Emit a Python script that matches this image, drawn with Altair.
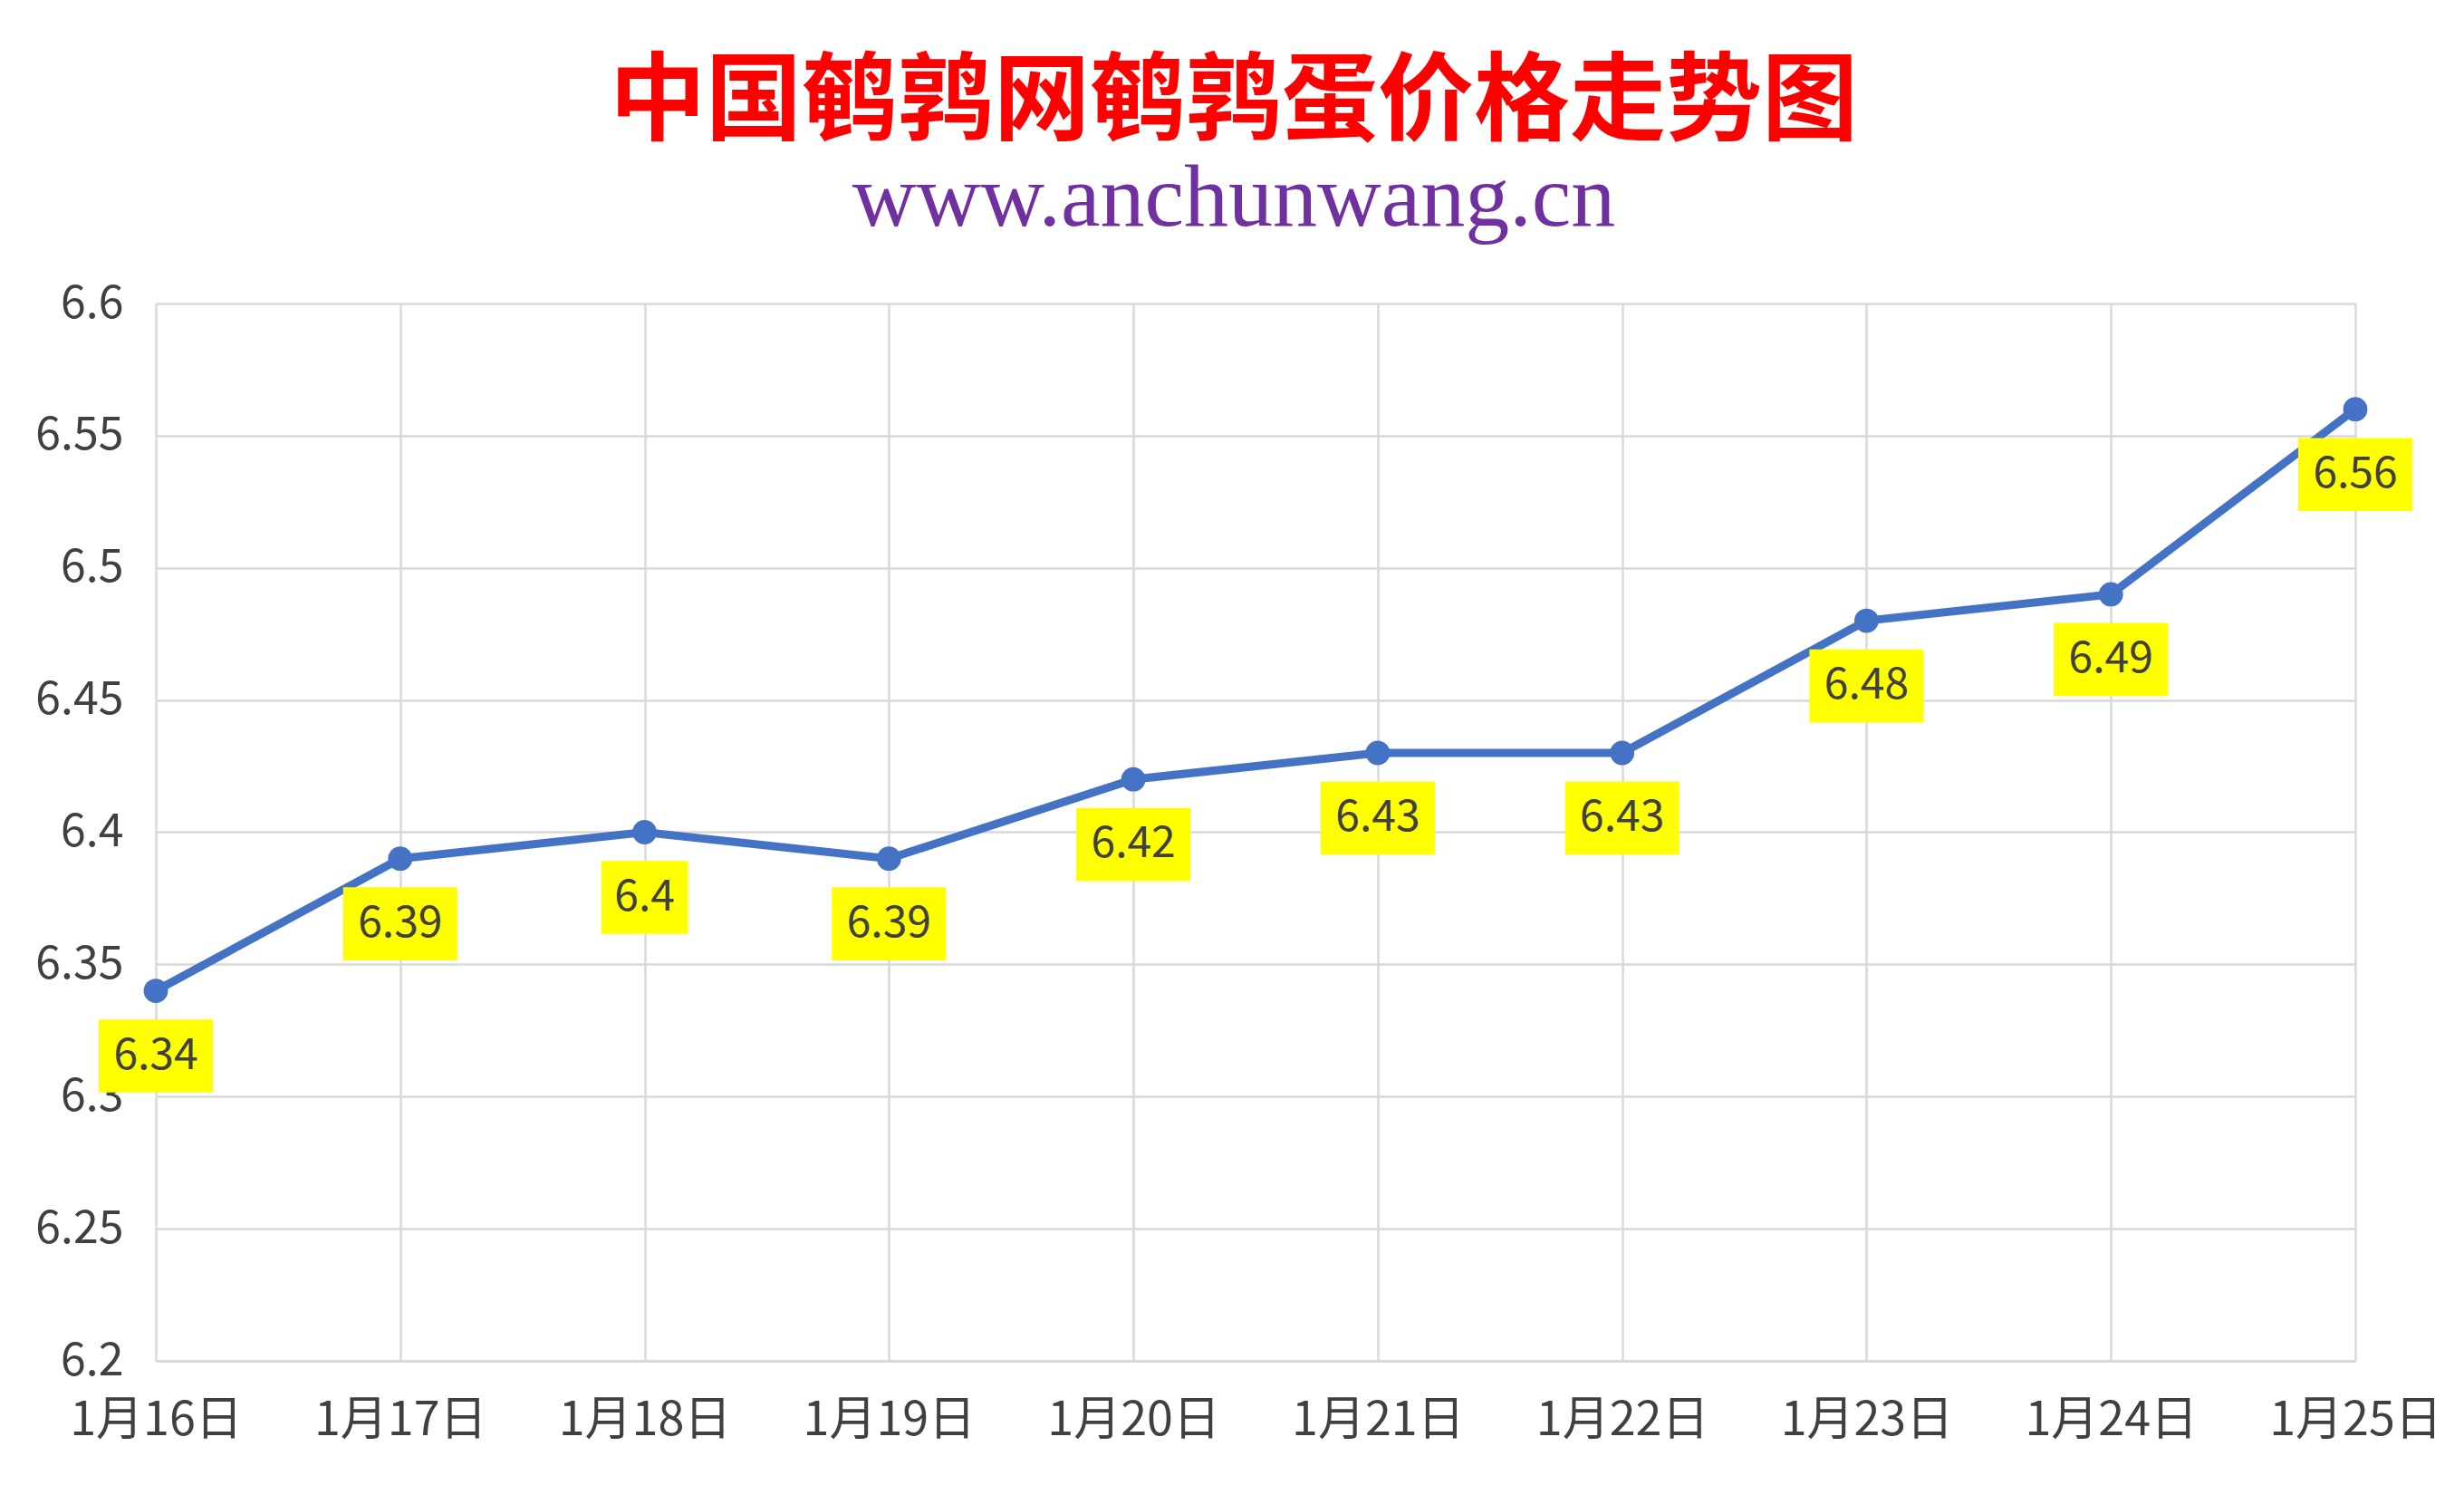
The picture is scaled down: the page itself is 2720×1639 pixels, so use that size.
import altair as alt
import pandas as pd

dates = ["1月16日", "1月17日", "1月18日", "1月19日", "1月20日",
         "1月21日", "1月22日", "1月23日", "1月24日", "1月25日"]
prices = [6.34, 6.39, 6.40, 6.39, 6.42, 6.43, 6.43, 6.48, 6.49, 6.56]
labels = ["6.34", "6.39", "6.4", "6.39", "6.42", "6.43", "6.43", "6.48", "6.49", "6.56"]

df = pd.DataFrame({"date": dates, "price": prices, "label": labels})
df["box"] = ["w" + str(len(s)) for s in df["label"]]

FONT = "Noto Sans CJK SC"
BLUE = "#4472C4"

x = alt.X("date:N", sort=dates, title=None,
          scale=alt.Scale(type="point", padding=0),
          axis=alt.Axis(labelAngle=0, labelFontSize=52, labelFont=FONT,
                        labelColor="#404040", labelPadding=40, ticks=False,
                        labelLimit=0, labelOverlap=False,
                        domain=True, domainColor="#D9D9D9", domainWidth=3,
                        grid=True, gridColor="#D9D9D9", gridWidth=2.5))
y = alt.Y("price:Q", title=None,
          scale=alt.Scale(domain=[6.2, 6.6], nice=False, zero=False),
          axis=alt.Axis(values=[6.2, 6.25, 6.3, 6.35, 6.4, 6.45, 6.5, 6.55, 6.6],
                        format=".2~f", labelFontSize=50, labelFont=FONT,
                        labelColor="#404040", labelPadding=36, ticks=False,
                        labelOverlap=False,
                        domain=False, grid=True, gridColor="#D9D9D9", gridWidth=2.5))

base = alt.Chart(df).encode(x=x, y=y)

line = base.mark_line(color=BLUE, strokeWidth=9)
pts = base.mark_point(filled=True, color=BLUE, opacity=1, size=720)

boxes = base.mark_point(filled=True, color="#FFFF00", opacity=1, yOffset=72,
                        strokeWidth=0).encode(
    shape=alt.Shape("box:N", legend=None,
                    scale=alt.Scale(domain=["w4", "w3"],
                                    range=["M-1,-0.64L1,-0.64L1,0.64L-1,0.64Z",
                                           "M-0.76,-0.64L0.76,-0.64L0.76,0.64L-0.76,0.64Z"])),
    size=alt.value(126 * 126),
)
texts = base.mark_text(fontSize=48, font=FONT, color="#404040", yOffset=72,
                       baseline="middle", align="center").encode(text="label:N")

chart = alt.layer(line, pts, boxes, texts).properties(
    width=2428, height=1167,
    autosize=alt.AutoSizeParams(type="none"),
    padding={"left": 164, "top": 327, "right": 112, "bottom": 129},
    title=alt.TitleParams(
        text="中国鹌鹑网鹌鹑蛋价格走势图",
        subtitle="www.anchunwang.cn",
        font=FONT, fontSize=106, fontWeight="bold", color="#FF0000",
        subtitleFont="Liberation Serif", subtitleFontSize=98,
        subtitleColor="#7030A0", subtitlePadding=4,
        anchor="middle", dx=-24, offset=40,
    ),
).configure_view(stroke=None).configure(background="white")

chart.save("out.html", embed_options={"renderer": "svg", "actions": False})
